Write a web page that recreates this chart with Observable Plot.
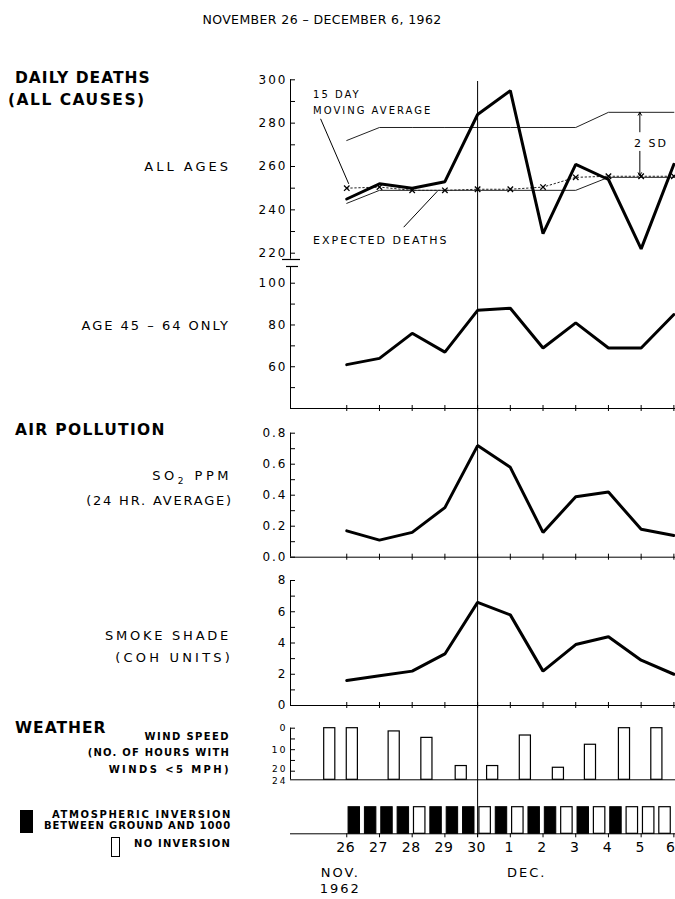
<!DOCTYPE html>
<html>
<head>
<meta charset="utf-8">
<script src="https://cdn.jsdelivr.net/npm/d3@7"></script>
<script src="https://cdn.jsdelivr.net/npm/@observablehq/plot@0.6"></script>
<style>
  body { margin: 0; background: #fff; }
  #wrap { position: relative; width: 675px; height: 899px; overflow: hidden; background: #fff; color: #000; font-family: "DejaVu Sans", sans-serif; }
  #wrap svg { position: absolute; left: 0; top: 0; background: transparent !important; overflow: visible; }
  #wrap svg text { letter-spacing: 2px; }
  #wrap svg g[font-size="14"] text { letter-spacing: 0.5px; }
  .lbl { position: absolute; white-space: nowrap; line-height: 1; }
  .b { font-weight: bold; }
  .box { position: absolute; border: 1px solid #000; box-sizing: border-box; }
</style>
</head>
<body>
<div id="wrap">
  <div class="lbl" style="left:322px; top:14px; font-size:12.5px; letter-spacing:0.4px; transform:translateX(-50%);">NOVEMBER 26 – DECEMBER 6, 1962</div>

  <div class="lbl b" style="left:15px; top:70.9px; font-size:15.5px; letter-spacing:1px;">DAILY DEATHS</div>
  <div class="lbl b" style="left:8px; top:92.6px; font-size:15.5px; letter-spacing:1.5px;">(ALL CAUSES)</div>
  <div class="lbl" style="right:444px; top:159.8px; font-size:13px; letter-spacing:3px;">ALL AGES</div>
  <div class="lbl" style="right:445px; top:318.8px; font-size:13px; letter-spacing:2px;">AGE 45 – 64 ONLY</div>

  <div class="lbl b" style="left:15px; top:422.6px; font-size:15.5px; letter-spacing:1.3px;">AIR POLLUTION</div>
  <div class="lbl" style="right:443px; top:469.3px; font-size:13px; letter-spacing:3.5px;">SO<span style="font-size:9px; position:relative; top:4px;">2</span> PPM</div>
  <div class="lbl" style="right:442px; top:493.8px; font-size:13px; letter-spacing:1.8px;">(24 HR. AVERAGE)</div>
  <div class="lbl" style="right:444px; top:628.8px; font-size:13px; letter-spacing:2.75px;">SMOKE SHADE</div>
  <div class="lbl" style="right:442px; top:650.5px; font-size:13px; letter-spacing:3.2px;">(COH UNITS)</div>

  <div class="lbl b" style="left:15px; top:720.6px; font-size:15.5px; letter-spacing:1px;">WEATHER</div>
  <div class="lbl b" style="right:445px; top:732.2px; font-size:10px; letter-spacing:1.4px;">WIND SPEED</div>
  <div class="lbl b" style="right:445px; top:748.2px; font-size:10px; letter-spacing:1.2px;">(NO. OF HOURS WITH</div>
  <div class="lbl b" style="right:444px; top:765.2px; font-size:10px; letter-spacing:2.4px;">WINDS &lt;5 MPH)</div>

  <div class="box" style="left:20px; top:810px; width:13px; height:23px; background:#000;"></div>
  <div class="lbl b" style="right:443px; top:809.9px; font-size:10px; letter-spacing:1.6px;">ATMOSPHERIC INVERSION</div>
  <div class="lbl b" style="right:444px; top:821px; font-size:10px; letter-spacing:0.9px;">BETWEEN GROUND AND 1000</div>
  <div class="box" style="left:111px; top:837px; width:9px; height:20px; background:#fff;"></div>
  <div class="lbl b" style="right:444px; top:839.4px; font-size:10px; letter-spacing:1.2px;">NO INVERSION</div>
</div>
<script>
// ---------------- data ----------------
const dayTicks = ["26", "27", "28", "29", "30", "1", "2", "3", "4", "5", "6"]; // Nov 26 .. Dec 6
const deathsAllAges   = [245, 252, 250, 253, 284, 295, 229, 261, 254, 222, 261];
const expectedDeaths  = [243, 249, 249, 249, 249, 249, 249, 249, 255, 255, 255];
const upperLimit2SD   = [272, 278, 278, 278, 278, 278, 278, 278, 285, 285, 285];
const movingAverage15 = [250, 250.5, 249, 249, 249.5, 249.5, 250.5, 255, 255.5, 255.5, 255.5];
const deaths45to64    = [61, 64, 76, 67, 87, 88, 69, 81, 69, 69, 85];
const so2ppm          = [0.17, 0.11, 0.16, 0.32, 0.72, 0.58, 0.16, 0.39, 0.42, 0.18, 0.14];
const smokeCOH        = [1.6, 1.9, 2.2, 3.3, 6.6, 5.8, 2.2, 3.9, 4.4, 2.9, 2.0];
// wind: day (offset from Nov 26) and hours with winds < 5 mph
const windDay   = [-0.52, 0.17, 1.45, 2.45, 3.5, 4.46, 5.46, 6.47, 7.45, 8.49, 9.48];
const windHours = [0, 0, 1.5, 4.5, 17.6, 17.6, 3.4, 18.4, 7.7, 0, 0];
// inversion by 12-hour period from Nov 26 (1 = inversion, 0 = none)
const inversion = [1, 1, 1, 1, 0, 1, 1, 1, 0, 1, 0, 1, 1, 0, 1, 0, 1, 0, 0, 0];
const episodeDay = 4; // Nov 30
const monthLabels = ["NOV.", "DEC.", "1962"];

// ---------------- helpers ----------------
const dayIdx = dayTicks.map((d, i) => i);
const X0 = -1.72, X1 = 10.05;
const H = 899, W = 675;

function panel(top, bottom, y, marks) {
  return Plot.plot({
    width: W, height: H,
    marginLeft: 290, marginRight: 0, marginTop: top, marginBottom: H - bottom,
    x: {domain: [X0, X1], axis: null, label: null},
    y: {...y, axis: null, label: null},
    style: {background: "transparent", overflow: "visible", fontFamily: "DejaVu Sans", fontSize: "12px"},
    marks
  });
}
function yAxis(labels, ticks, fmt, fontSize = 12) {
  return [
    Plot.axisY({ticks: labels, tickSize: 0, tickPadding: 3, tickFormat: fmt, fontSize, label: null}),
    Plot.axisY({ticks, tickSize: 5, dx: 5, tickFormat: () => "", label: null})
  ];
}
const crossTicks = Plot.axisX({ticks: dayIdx, tickSize: 6, dy: -3, tickFormat: () => "", label: null});
const idx = (d, i) => i;
const val = (d) => d;

const wrap = document.getElementById("wrap");

// Daily deaths, all ages
wrap.appendChild(panel(79.3, 252.7, {domain: [220, 300]}, [
  Plot.ruleX([X0], {insetBottom: -6}),
  ...yAxis([220, 240, 260, 280, 300], d3.range(220, 301, 10), d3.format("d")),
  Plot.line(upperLimit2SD, {x: idx, y: val, stroke: "#222", strokeWidth: 1}),
  Plot.line(expectedDeaths, {x: idx, y: val, stroke: "#222", strokeWidth: 1}),
  Plot.line(movingAverage15, {x: idx, y: val, stroke: "#222", strokeWidth: 1, strokeDasharray: "1.5,2.5"}),
  Plot.dot(movingAverage15, {x: idx, y: val, symbol: "times", r: 2.6, stroke: "#000", strokeWidth: 1.3}),
  Plot.line(deathsAllAges, {x: idx, y: val, stroke: "#000", strokeWidth: 3, strokeLinejoin: "miter"}),
  Plot.link([{x1: -0.80, y1: 282, x2: 0.06, y2: 252}, {x1: 1.74, y1: 232, x2: 2.77, y2: 248.6}],
    {x1: "x1", y1: "y1", x2: "x2", y2: "y2", stroke: "#000", strokeWidth: 1}),
  Plot.text(["15 DAY", "MOVING AVERAGE"], {x: -1.03, y: [293, 285.5], text: val, textAnchor: "start", fontSize: 10, fill: "#000"}),
  Plot.text(["EXPECTED DEATHS"], {x: -1.03, y: 226, text: val, textAnchor: "start", fontSize: 11, fill: "#000"}),
  Plot.arrow([{y1: 276, y2: 285}, {y1: 267, y2: 255.8}],
    {x1: 8.96, x2: 8.96, y1: "y1", y2: "y2", stroke: "#000", strokeWidth: 1, headLength: 5}),
  Plot.text(["2 SD"], {x: 9.3, y: 270.5, text: val, fontSize: 11, fill: "#000"})
]));

// Age 45-64
wrap.appendChild(panel(266, 408, {domain: [40, 108]}, [
  Plot.ruleX([X0]),
  Plot.ruleY([40]),
  Plot.ruleY([108], {x1: X0, x2: X0, insetLeft: -8, insetRight: -10, dy: -7, strokeWidth: 1.2}),
  Plot.ruleY([108], {x1: X0, x2: X0, insetLeft: -4, insetRight: -8, strokeWidth: 1.2}),
  ...yAxis([60, 80, 100], d3.range(50, 101, 10), d3.format("d")),
  crossTicks,
  Plot.line(deaths45to64, {x: idx, y: val, stroke: "#000", strokeWidth: 3, strokeLinejoin: "miter"})
]));

// SO2
wrap.appendChild(panel(432.7, 556.7, {domain: [0, 0.8]}, [
  Plot.ruleX([X0]),
  Plot.ruleY([0]),
  ...yAxis([0, 0.2, 0.4, 0.6, 0.8], d3.range(0, 0.81, 0.1), d3.format(".1f")),
  crossTicks,
  Plot.line(so2ppm, {x: idx, y: val, stroke: "#000", strokeWidth: 3, strokeLinejoin: "miter"})
]));

// Smoke shade
wrap.appendChild(panel(580, 705, {domain: [0, 8]}, [
  Plot.ruleX([X0]),
  Plot.ruleY([0]),
  ...yAxis([0, 2, 4, 6, 8], d3.range(0, 9, 1), d3.format("d")),
  crossTicks,
  Plot.line(smokeCOH, {x: idx, y: val, stroke: "#000", strokeWidth: 3, strokeLinejoin: "miter"})
]));

// Wind speed
const windRows = windDay.map((d, i) => ({day: d, hours: windHours[i]}));
wrap.appendChild(panel(727.7, 779.3, {domain: [0, 24], reverse: true}, [
  Plot.ruleX([X0]),
  Plot.ruleY([24]),
  Plot.axisY({ticks: [0, 10], tickSize: 0, tickPadding: 3, fontSize: 9.5, label: null}),
  Plot.axisY({ticks: [20], tickSize: 0, tickPadding: 3, fontSize: 9, dy: -2.5, label: null}),
  Plot.axisY({ticks: [24], tickSize: 0, tickPadding: 3, fontSize: 9, dy: 1.5, label: null}),
  Plot.axisY({ticks: [0, 5, 10, 15, 20], tickSize: 5, dx: 5, tickFormat: () => "", label: null}),
  Plot.rect(windRows, {x1: d => d.day - 0.17, x2: d => d.day + 0.17, y1: "hours", y2: 24, fill: "#fff", stroke: "#000", strokeWidth: 1.2})
]));

// Inversion
const invRows = inversion.map((v, h) => ({t: h / 2 + 0.23, inv: v}));
const lastDay = dayIdx.length - 1;
wrap.appendChild(panel(806.7, 833.3, {domain: [0, 1]}, [
  Plot.rect(invRows.filter(d => d.inv === 1), {x1: d => d.t - 0.175, x2: d => d.t + 0.175, y1: 0, y2: 1, fill: "#000", stroke: "#000"}),
  Plot.rect(invRows.filter(d => d.inv === 0), {x1: d => d.t - 0.175, x2: d => d.t + 0.175, y1: 0, y2: 1, fill: "#fff", stroke: "#000", strokeWidth: 1.2}),
  Plot.ruleY([0], {x1: X0, x2: X1}),
  Plot.axisX({ticks: dayIdx, tickSize: 4, tickPadding: 0, tickFormat: () => "", label: null}),
  Plot.text(dayIdx.filter(i => i < lastDay), {x: val, text: i => dayTicks[i], frameAnchor: "bottom", dy: 18.5, dx: -1, fontSize: 14, fill: "#000", textAnchor: "middle"}),
  Plot.text([lastDay], {x: val, text: i => dayTicks[i], frameAnchor: "bottom", dy: 18.5, dx: 1.5, fontSize: 14, fill: "#000", textAnchor: "end"}),
  Plot.text(monthLabels.slice(0, 1), {x: -0.2, frameAnchor: "bottom", dy: 43, text: val, fontSize: 13, fill: "#000"}),
  Plot.text(monthLabels.slice(1, 2), {x: 5.5, frameAnchor: "bottom", dy: 43, text: val, fontSize: 13, fill: "#000"}),
  Plot.text(monthLabels.slice(2, 3), {x: -0.2, frameAnchor: "bottom", dy: 59, text: val, fontSize: 13, fill: "#000"})
]));

// Episode marker line (Nov 30) spanning all panels
wrap.appendChild(Plot.plot({
  width: W, height: H, marginLeft: 290, marginRight: 0, marginTop: 81, marginBottom: H - 837,
  x: {domain: [X0, X1], axis: null},
  style: {background: "transparent", overflow: "visible"},
  marks: [Plot.ruleX([episodeDay], {stroke: "#000", strokeWidth: 1})]
}));
</script>
</body>
</html>
